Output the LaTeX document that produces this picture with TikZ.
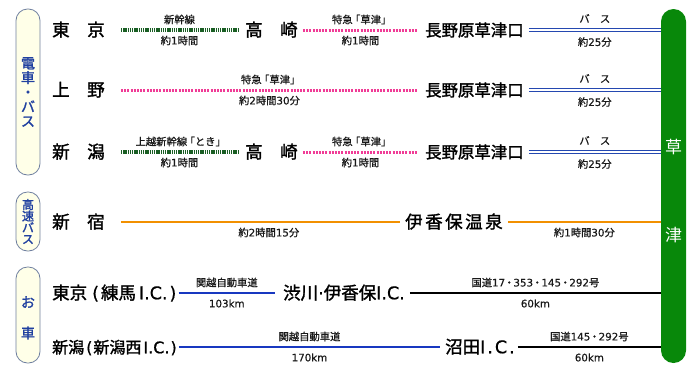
\documentclass[tikz,border=0pt]{standalone}
\usepackage{fontspec}
\setmainfont{Noto Sans CJK JP}
\newfontfamily\stnfont{Noto Sans CJK JP}[FakeBold=1.6]
\newfontfamily\labfont{Noto Sans CJK JP}[FakeBold=0.9]
\newfontfamily\numfont{DejaVu Sans}[FakeBold=0.6]
\newfontfamily\barfont{Noto Sans CJK JP}
\newcommand\N[1]{{\numfont #1}}
\newcommand\IC{\N{I.C.}}
\newcommand\ICw{\N{I\kern2pt.\kern2pt C\kern2pt.}}
\newcommand\LB{\kern-2.5pt「}
\newcommand\RB{」\kern-2.5pt}
\usetikzlibrary{calc}
\definecolor{sgreen}{HTML}{1A5E24}
\definecolor{tpink}{HTML}{F03C96}
\definecolor{busblue}{HTML}{2448B0}
\definecolor{orng}{HTML}{F29000}
\definecolor{roadblue}{HTML}{1838C0}
\definecolor{bargreen}{HTML}{08880A}
\definecolor{boxfill}{HTML}{FFFFE8}
\definecolor{boxline}{HTML}{7080A0}
\definecolor{boxtext}{HTML}{2040A0}
\begin{document}
\begin{tikzpicture}[x=1pt,y=-1pt,
 stn/.style={anchor=west,inner sep=0pt,font=\fontsize{17.5}{17.5}\selectfont\stnfont,text height=15pt,text depth=2.5pt},
 lbl/.style={inner sep=0pt,font=\fontsize{10.3}{10.3}\selectfont\labfont,text=black!90},
 up/.style={lbl,midway,yshift=10.5pt},
 dn/.style={lbl,midway,yshift=-10.5pt},
 shink/.style={draw=sgreen,line width=3.2pt,dash pattern=on 1.5pt off 0.7pt},
 tokkyu/.style={draw=tpink,line width=3pt,dash pattern=on 2pt off 1.2pt},
 busline/.style={draw=busblue,double=white,double distance=1.4pt,line width=1.6pt},
 hbus/.style={draw=orng,line width=2.8pt},
 road/.style={draw=roadblue,line width=2pt},
 kokudo/.style={draw=black,line width=2pt},
 cat/.style={draw=boxline,fill=boxfill,rounded corners=11.5pt,minimum width=24pt,line width=0.8pt,inner sep=0pt},
 cattext/.style={text=boxtext,font=\fontsize{14}{14.5}\selectfont\stnfont,align=center,inner sep=0pt},
 bartext/.style={text=white,font=\fontsize{17}{17}\selectfont\barfont,inner sep=0pt}
]
\useasboundingbox (0,0) rectangle (692,365);
% category boxes
\node[cat,minimum height=166pt] (cat1) at (28,92) {};
\node[cattext] (cat1t) at (cat1) {電\\車\\・\\バ\\ス};
\node[cat,minimum height=59pt] (cat2) at (28,221.5) {};
\node[cattext,font=\fontsize{12}{11.5}\selectfont\stnfont] (cat2t) at (cat2) {高\\速\\バ\\ス};
\node[cat,minimum height=96pt] (cat3) at (28,315) {};
\node[cattext] (cat3o) at (28,302) {お};
\node[cattext] (cat3k) at (28,333) {車};
% destination bar
\node[fill=bargreen,rounded corners=12.5pt,minimum width=25pt,minimum height=354pt,inner sep=0pt] (bar) at (673.5,186) {};
\node[bartext] (bark) at (673.5,147) {草};
\node[bartext] (bart) at (673.5,235) {津};
% row 1
\node[stn] (tokyo) at (52,30) {東　京};
\node[stn] (takasaki1) at (245,30) {高　崎};
\node[stn,font=\fontsize{16.4}{16.4}\selectfont\stnfont] (nagano1) at (425,30) {長野原草津口};
\draw[shink] ([xshift=16pt]tokyo.east) -- node[up]{新幹線} node[dn]{約\N{1}時間} ([xshift=-7pt]takasaki1.west);
\draw[tokkyu] ([xshift=5pt]takasaki1.east) -- node[up]{特急\LB 草津\RB} node[dn]{約\N{1}時間} ([xshift=-7pt]nagano1.west);
\draw[busline] ([xshift=5pt]nagano1.east) -- node[up,yshift=1pt]{バ　ス} node[dn,yshift=-1.5pt]{約\N{25}分} (nagano1.east -| bar.west);
% row 2
\node[stn] (ueno) at (52,90) {上　野};
\node[stn,font=\fontsize{16.4}{16.4}\selectfont\stnfont] (nagano2) at (425,90) {長野原草津口};
\draw[tokkyu] ([xshift=16pt]ueno.east) -- node[up]{特急\LB 草津\RB} node[dn]{約\N{2}時間\N{30}分} ([xshift=-7pt]nagano2.west);
\draw[busline] ([xshift=5pt]nagano2.east) -- node[up,yshift=1pt]{バ　ス} node[dn,yshift=-1.5pt]{約\N{25}分} (nagano2.east -| bar.west);
% row 3
\node[stn] (niigata) at (52,152) {新　潟};
\node[stn] (takasaki2) at (245,152) {高　崎};
\node[stn,font=\fontsize{16.4}{16.4}\selectfont\stnfont] (nagano3) at (425,152) {長野原草津口};
\draw[shink] ([xshift=16pt]niigata.east) -- node[up]{上越新幹線\LB とき\RB} node[dn]{約\N{1}時間} ([xshift=-7pt]takasaki2.west);
\draw[tokkyu] ([xshift=5pt]takasaki2.east) -- node[up]{特急\LB 草津\RB} node[dn]{約\N{1}時間} ([xshift=-7pt]nagano3.west);
\draw[busline] ([xshift=5pt]nagano3.east) -- node[up,yshift=1pt]{バ　ス} node[dn,yshift=-1.5pt]{約\N{25}分} (nagano3.east -| bar.west);
% row 4
\node[stn] (shinjuku) at (52,222) {新　宿};
\node[stn] (ikaho) at (405,222) {伊\kern2.5pt 香\kern2.5pt 保\kern2.5pt 温\kern2.5pt 泉};
\draw[hbus] ([xshift=16pt]shinjuku.east) -- node[dn,pos=0.53]{約\N{2}時間\N{15}分} ([xshift=-5pt]ikaho.west);
\draw[hbus] ([xshift=5pt]ikaho.east) -- node[dn]{約\N{1}時間\N{30}分} (ikaho.east -| bar.west);
% row 5
\node[stn] (nerima) at (52,293) {東京\kern5pt\N{(}\kern2pt 練馬\kern3pt\IC\kern2pt\N{)}};
\node[stn] (shibukawa) at (283,293) {渋川\N{·}伊香保\IC};
\draw[road] ([xshift=2pt]nerima.east) -- node[up]{関越自動車道} node[dn]{\N{103km}} ([xshift=-8pt]shibukawa.west);
\draw[kokudo] ([xshift=5pt]shibukawa.east) -- node[up]{国道\N{17}\kern-1pt・\kern-1pt\N{353}\kern-1pt・\kern-1pt\N{145}\kern-1pt・\kern-1pt\N{292}号} node[dn]{\N{60km}} (shibukawa.east -| bar.west);
% row 6
\node[stn,font=\fontsize{16}{16}\selectfont\stnfont] (niigatanishi) at (52,347) {新潟\kern2pt\N{(}\kern1pt 新潟西\kern2pt\IC\kern1pt\N{)}};
\node[stn] (numata) at (445,347) {沼田\ICw};
\draw[road] ([xshift=2pt]niigatanishi.east) -- node[up]{関越自動車道} node[dn]{\N{170km}} ([xshift=-5pt]numata.west);
\draw[kokudo] ([xshift=3pt]numata.east) -- node[up]{国道\N{145}\kern-1pt・\kern-1pt\N{292}号} node[dn]{\N{60km}} (numata.east -| bar.west);
\end{tikzpicture}
\end{document}
